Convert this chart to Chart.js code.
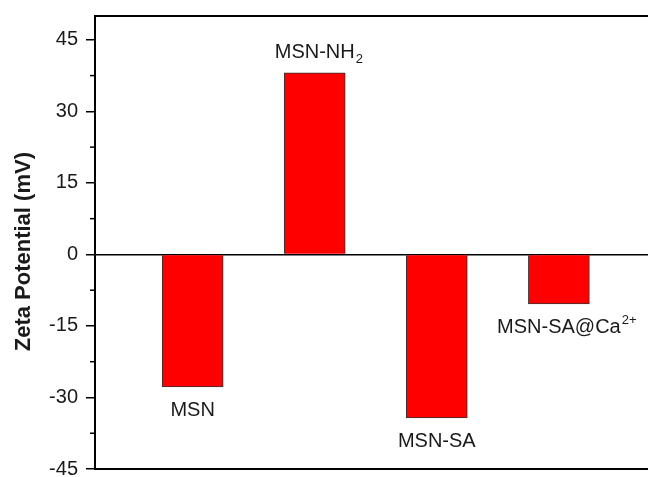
<!DOCTYPE html>
<html>
<head>
<meta charset="utf-8">
<script src="https://cdn.jsdelivr.net/npm/chart.js@4/dist/chart.umd.min.js"></script>
<style>
    body { margin: 0; background: #fff; }
    #wrap { width: 648px; height: 477px; position: relative; }
</style>
</head>
<body>
<div id="wrap"><canvas id="zetaChart"></canvas></div>
<script>
// Chart data
const categories = ['MSN', 'MSN-NH2', 'MSN-SA', 'MSN-SA@Ca2+'];
const zetaValues = [-27.8, 38.1, -34.3, -10.4];
const yTicks = [-45, -30, -15, 0, 15, 30, 45];
const yMinorTicks = [-37.5, -22.5, -7.5, 7.5, 22.5, 37.5];

// Label pieces (main text + subscript / superscript)
const labelMain = ['MSN', 'MSN-NH', 'MSN-SA', 'MSN-SA@Ca'];
const labelSub = ['', '2', '', ''];
const labelSup = ['', '', '', '2+'];

const FONT = 'Arial, "Liberation Sans", sans-serif';

// Frame, minor ticks and bar labels
const decorPlugin = {
    id: 'decor',
    afterDraw(chart) {
        const ctx = chart.ctx;
        const area = chart.chartArea;
        const y = chart.scales.y;

        ctx.save();
        ctx.strokeStyle = '#000';

        // top frame line
        ctx.lineWidth = 2;
        ctx.beginPath();
        ctx.moveTo(area.left - 1, area.top);
        ctx.lineTo(area.right, area.top);
        ctx.stroke();

        // minor ticks
        ctx.lineWidth = 1.5;
        yMinorTicks.forEach(v => {
            const py = y.getPixelForValue(v);
            ctx.beginPath();
            ctx.moveTo(area.left - 5, py);
            ctx.lineTo(area.left, py);
            ctx.stroke();
        });

        // bar labels
        const meta = chart.getDatasetMeta(0);
        ctx.fillStyle = '#1a1a1a';
        meta.data.forEach((bar, i) => {
            const base = zetaValues[i] >= 0 ? bar.y - 15 : bar.y + 29;
            ctx.font = '20px ' + FONT;
            ctx.textAlign = 'center';
            ctx.textBaseline = 'alphabetic';
            ctx.fillText(labelMain[i], bar.x, base);
            const half = ctx.measureText(labelMain[i]).width / 2;
            ctx.font = '13px ' + FONT;
            ctx.textAlign = 'left';
            if (labelSub[i]) ctx.fillText(labelSub[i], bar.x + half + 1, base + 5);
            if (labelSup[i]) ctx.fillText(labelSup[i], bar.x + half + 1, base - 9);
        });
        ctx.restore();
    }
};

document.addEventListener('DOMContentLoaded', function() {
    const ctx = document.getElementById('zetaChart').getContext('2d');
    new Chart(ctx, {
        type: 'bar',
        data: {
            labels: categories,
            datasets: [{
                label: 'Zeta Potential',
                data: zetaValues.map((v, i) => ({ x: i + 1, y: v })),
                backgroundColor: '#ff0000',
                borderColor: '#333333',
                borderWidth: 1,
                barThickness: 61
            }]
        },
        options: {
            responsive: true,
            maintainAspectRatio: false,
            animation: false,
            layout: {
                padding: { top: 16, right: 0, bottom: 0, left: 0 }
            },
            plugins: {
                legend: { display: false },
                tooltip: { enabled: false }
            },
            scales: {
                x: {
                    type: 'linear',
                    offset: false,
                    min: 0.2,
                    max: 4.73,
                    ticks: { display: false },
                    grid: { display: false, drawTicks: false, offset: false },
                    border: { display: true, color: '#000', width: 2 },
                    afterFit: (scale) => {
                        scale.height = 8;
                        scale.paddingLeft = 0;
                        scale.paddingRight = 0;
                    }
                },
                y: {
                    min: -45,
                    max: 50,
                    afterBuildTicks: (scale) => {
                        scale.ticks = yTicks.map(v => ({ value: v }));
                    },
                    afterFit: (scale) => {
                        scale.width = 95;
                        scale.paddingTop = 0;
                        scale.paddingBottom = 0;
                    },
                    ticks: {
                        color: '#1a1a1a',
                        padding: 8,
                        font: { family: FONT, size: 20 }
                    },
                    grid: {
                        color: (c) => (c.tick && c.tick.value === 0 ? '#000' : 'rgba(0,0,0,0)'),
                        lineWidth: 1.5,
                        tickColor: '#000',
                        tickLength: 9,
                        tickWidth: 1.5
                    },
                    border: { display: true, color: '#000', width: 2 },
                    title: {
                        display: true,
                        text: 'Zeta Potential (mV)   ',
                        color: '#1a1a1a',
                        font: { family: FONT, size: 22, weight: 'bold' },
                        padding: { top: 11, bottom: 0 }
                    }
                }
            }
        },
        plugins: [decorPlugin]
    });
});
</script>
</body>
</html>
